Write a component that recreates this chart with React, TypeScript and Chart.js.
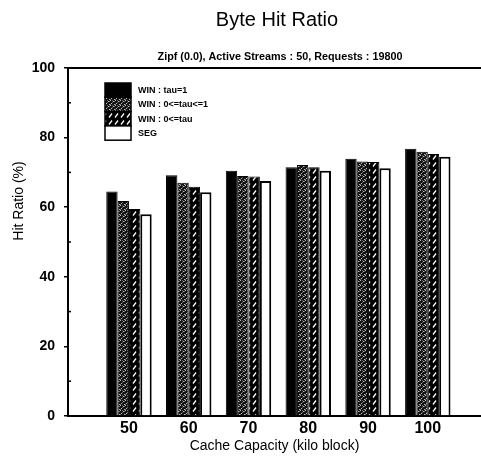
import { useEffect, useRef } from "react";
import { Chart, registerables } from "chart.js";

Chart.register(...registerables);

// Cache capacity groups (kilo block)
const capacities = [50, 60, 70, 80, 90, 100];

// Series names shown in the legend
const seriesNames = ["WIN : tau=1", "WIN : 0<=tau<=1", "WIN : 0<=tau", "SEG"];

// Byte hit ratio (%) for each policy
const winTauOne = [64.5, 69.2, 70.5, 71.5, 73.9, 76.8];
const winTauRange = [61.8, 67.0, 69.0, 72.1, 73.1, 75.9];
const winTauLower = [59.5, 65.9, 68.8, 71.5, 73.0, 75.3];
const segValues = [58.0, 64.3, 67.5, 70.5, 71.2, 74.5];

// Axis ticks
const yTicks = [0, 20, 40, 60, 80, 100];
const yMinorTicks = [10, 30, 50, 70, 90];

const chartTitle = "Byte Hit Ratio";
const subTitle = "Zipf (0.0), Active Streams : 50, Requests : 19800";
const xTitle = "Cache Capacity (kilo block)";
const yTitle = "Hit Ratio (%)";

const FONT = "'Liberation Sans', Arial, sans-serif";

function makeTile(w: number, h: number, draw: (c: CanvasRenderingContext2D) => void) {
  const cv = document.createElement("canvas");
  cv.width = w;
  cv.height = h;
  const c = cv.getContext("2d")!;
  draw(c);
  return c.createPattern(cv, "repeat")!;
}

// dark speckled grey fill
function stipplePattern() {
  return makeTile(5, 5, (c) => {
    c.fillStyle = "#111";
    c.fillRect(0, 0, 5, 5);
    c.fillStyle = "#bdbdbd";
    [[0, 0], [3, 1], [1, 3], [4, 4]].forEach(([x, y]) => c.fillRect(x, y, 1, 1));
    c.fillStyle = "#666";
    [[2, 2], [4, 1], [0, 4], [2, 0]].forEach(([x, y]) => c.fillRect(x, y, 1, 1));
  });
}

// black fill with short white slanted dashes
function slashPattern() {
  return makeTile(6, 7, (c) => {
    c.fillStyle = "#000";
    c.fillRect(0, 0, 6, 7);
    c.strokeStyle = "#fff";
    c.lineWidth = 1.3;
    c.beginPath();
    c.moveTo(1, 5.5);
    c.lineTo(4, 1.5);
    c.stroke();
  });
}

const decorations = {
  id: "decorations",
  afterDraw(chart: any) {
    const { ctx, chartArea, scales } = chart;
    const y = scales.y;
    ctx.save();
    ctx.strokeStyle = "#000";
    ctx.fillStyle = "#000";

    // top frame line
    ctx.lineWidth = 2;
    ctx.beginPath();
    ctx.moveTo(chartArea.left - 1, chartArea.top);
    ctx.lineTo(chartArea.right, chartArea.top);
    ctx.stroke();

    // inner minor ticks on the value axis
    ctx.lineWidth = 1.5;
    yMinorTicks.forEach((v) => {
      const py = y.getPixelForValue(v);
      ctx.beginPath();
      ctx.moveTo(chartArea.left, py);
      ctx.lineTo(chartArea.left + 3, py);
      ctx.stroke();
    });

    // titles
    ctx.textAlign = "center";
    ctx.textBaseline = "middle";
    ctx.font = `20px ${FONT}`;
    ctx.fillText(chartTitle, 277, 20);
    ctx.font = `bold 10.8px ${FONT}`;
    ctx.fillText(subTitle, 280, 57);

    ctx.save();
    ctx.translate(19, 201);
    ctx.rotate(-Math.PI / 2);
    ctx.font = `14px ${FONT}`;
    ctx.fillText(yTitle, 0, 0);
    ctx.restore();

    // legend
    const boxX = 105;
    const boxW = 26;
    const rowH = 14.3;
    const top = 83;
    ctx.textAlign = "left";
    ctx.font = `bold 9px ${FONT}`;
    chart.data.datasets.forEach((ds: any, i: number) => {
      const by = top + i * rowH;
      ctx.fillStyle = ds.backgroundColor;
      ctx.fillRect(boxX, by, boxW, rowH);
      ctx.lineWidth = 1.5;
      ctx.strokeStyle = "#000";
      ctx.strokeRect(boxX, by, boxW, rowH);
      ctx.fillStyle = "#000";
      ctx.fillText(ds.label, boxX + 33, by + rowH / 2 + 0.5);
    });
    ctx.restore();
  },
};

export default function App() {
  const ref = useRef<HTMLCanvasElement>(null);

  useEffect(() => {
    const canvas = ref.current!;
    const fills = ["#000", stipplePattern(), slashPattern(), "#fff"];
    const values = [winTauOne, winTauRange, winTauLower, segValues];

    const chart = new Chart(canvas, {
      type: "bar",
      data: {
        labels: capacities,
        datasets: values.map((vals, i) => ({
          label: seriesNames[i],
          data: vals,
          backgroundColor: fills[i] as any,
          borderColor: "#000",
          borderWidth: i === 3 ? 2 : 1,
          categoryPercentage: 0.76,
          barPercentage: 1,
        })),
      },
      options: {
        animation: false,
        responsive: false,
        devicePixelRatio: 1,
        layout: { padding: { top: 68, left: 0, right: 0, bottom: 0 } },
        plugins: {
          legend: { display: false },
          title: { display: false },
          tooltip: { enabled: false },
        },
        scales: {
          x: {
            type: "linear",
            offset: false,
            min: 39.8,
            max: 108.9,
            afterBuildTicks: (scale: any) => {
              scale.ticks = capacities.map((v) => ({ value: v }));
            },
            afterFit: (scale: any) => {
              scale.height = 43;
            },
            grid: { display: true, drawOnChartArea: false, drawTicks: false },
            border: { display: true, color: "#000", width: 2 },
            ticks: {
              color: "#000",
              padding: 3,
              maxRotation: 0,
              autoSkip: false,
              font: { family: FONT, size: 16, weight: "bold" },
            },
            title: {
              display: true,
              text: xTitle,
              color: "#000",
              font: { family: FONT, size: 14 },
              padding: { top: 0, bottom: 4 },
            },
          },
          y: {
            min: 0,
            max: 100,
            afterBuildTicks: (scale: any) => {
              scale.ticks = yTicks.map((v) => ({ value: v }));
            },
            afterFit: (scale: any) => {
              scale.width = 68;
            },
            grid: {
              display: true,
              drawOnChartArea: false,
              drawTicks: true,
              tickLength: 4,
              color: "#000",
              lineWidth: 1.5,
            },
            border: { display: true, color: "#000", width: 2 },
            ticks: {
              color: "#000",
              padding: 9,
              font: { family: FONT, size: 14, weight: "bold" },
            },
          },
        },
      },
      plugins: [decorations],
    });
    return () => chart.destroy();
  }, []);

  return (
    <div style={{ position: "absolute", left: 0, top: 0, width: 481, height: 459, background: "#fff" }}>
      <canvas ref={ref} width={481} height={459} />
    </div>
  );
}
